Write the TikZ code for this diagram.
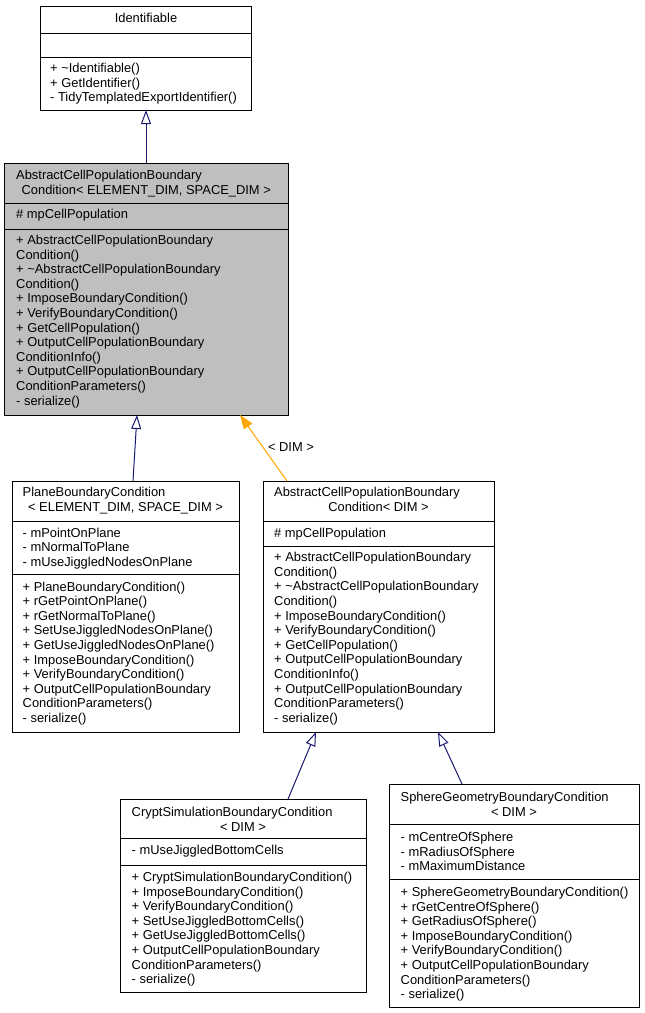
\documentclass[tikz,border=0pt]{standalone}
\usepackage{fontspec}
\setmainfont{Liberation Sans}
\usetikzlibrary{arrows.meta}
\definecolor{navy}{RGB}{25,25,112}
\definecolor{dorange}{RGB}{255,165,0}
\definecolor{dgray}{RGB}{191,191,191}
\newcommand\clslines[4]{%
  \foreach \t [count=\i] in {#4} {\node[txt] (#1-\i) at (#2,{#3+(\i-1)*14.6}) {\t};}%
}
\begin{document}
\begin{tikzpicture}[x=1pt,y=-1pt,
  box/.style={draw=black, line width=1pt, rectangle, inner sep=0pt, outer sep=0pt, anchor=north west},
  txt/.style={anchor=base west, inner sep=0pt, font=\fontsize{12.9}{14.6}\selectfont},
  ctxt/.style={anchor=base, inner sep=0pt, font=\fontsize{12.9}{14.6}\selectfont},
  sep/.style={draw=black, line width=1pt},
  inh/.style={draw=navy, line width=1pt, -{Triangle[open, length=14pt, width=10pt]}},
  tmpl/.style={draw=dorange, line width=1pt, -{Triangle[length=14pt, width=10pt]}, fill=dorange}
]
\useasboundingbox (0,0) rectangle (645,1013);

% Identifiable
\node[box, minimum width=211pt, minimum height=104pt] (ident) at (40.5,6) {};
\draw[sep] (ident.west |- 0,33) -- (ident.east |- 0,33);
\draw[sep] (ident.west |- 0,57) -- (ident.east |- 0,57);
\node[ctxt] (ident-t) at (146,22.5) {Identifiable};
\clslines{ident}{50}{72.5}{+ \textasciitilde Identifiable(), + GetIdentifier(), - TidyTemplatedExportIdentifier()}

% AbstractCellPopulationBoundaryCondition<ELEMENT_DIM, SPACE_DIM>
\node[box, fill=dgray, minimum width=283.5pt, minimum height=252pt] (abs) at (4.5,163) {};
\draw[sep] (abs.west |- 0,203) -- (abs.east |- 0,203);
\draw[sep] (abs.west |- 0,229) -- (abs.east |- 0,229);
\node[txt] (abs-t1) at (16,179.5) {AbstractCellPopulationBoundary};
\node[ctxt] (abs-t2) at (146.25,194.3) {Condition< ELEMENT\_DIM, SPACE\_DIM >};
\node[txt] (abs-a) at (16,218.5) {\# mpCellPopulation};
\clslines{abs}{16}{244.5}{+ AbstractCellPopulationBoundary, Condition(), + \textasciitilde AbstractCellPopulationBoundary, Condition(), + ImposeBoundaryCondition(), + VerifyBoundaryCondition(), + GetCellPopulation(), + OutputCellPopulationBoundary, ConditionInfo(), + OutputCellPopulationBoundary, ConditionParameters(), - serialize()}

% PlaneBoundaryCondition
\node[box, minimum width=227pt, minimum height=251pt] (plane) at (12,481) {};
\draw[sep] (plane.west |- 0,521) -- (plane.east |- 0,521);
\draw[sep] (plane.west |- 0,574) -- (plane.east |- 0,574);
\node[txt] (plane-t1) at (22.5,496.5) {PlaneBoundaryCondition};
\node[ctxt] (plane-t2) at (125.5,511.2) {< ELEMENT\_DIM, SPACE\_DIM >};
\clslines{plane-a}{22.5}{537}{- mPointOnPlane, - mNormalToPlane, - mUseJiggledNodesOnPlane}
\clslines{plane}{22.5}{591}{+ PlaneBoundaryCondition(), + rGetPointOnPlane(), + rGetNormalToPlane(), + SetUseJiggledNodesOnPlane(), + GetUseJiggledNodesOnPlane(), + ImposeBoundaryCondition(), + VerifyBoundaryCondition(), + OutputCellPopulationBoundary, ConditionParameters(), - serialize()}

% AbstractCellPopulationBoundaryCondition<DIM>
\node[box, minimum width=231pt, minimum height=251pt] (absdim) at (263,481) {};
\draw[sep] (absdim.west |- 0,521) -- (absdim.east |- 0,521);
\draw[sep] (absdim.west |- 0,546) -- (absdim.east |- 0,546);
\node[txt] (absdim-t1) at (274,496.7) {AbstractCellPopulationBoundary};
\node[ctxt] (absdim-t2) at (378.5,511.3) {Condition< DIM >};
\node[txt] (absdim-a) at (274,537.4) {\# mpCellPopulation};
\clslines{absdim}{274}{561.7}{+ AbstractCellPopulationBoundary, Condition(), + \textasciitilde AbstractCellPopulationBoundary, Condition(), + ImposeBoundaryCondition(), + VerifyBoundaryCondition(), + GetCellPopulation(), + OutputCellPopulationBoundary, ConditionInfo(), + OutputCellPopulationBoundary, ConditionParameters(), - serialize()}

% CryptSimulationBoundaryCondition
\node[box, minimum width=246pt, minimum height=193pt] (crypt) at (120,799) {};
\draw[sep] (crypt.west |- 0,838) -- (crypt.east |- 0,838);
\draw[sep] (crypt.west |- 0,865) -- (crypt.east |- 0,865);
\node[txt] (crypt-t1) at (131.5,816.5) {CryptSimulationBoundaryCondition};
\node[ctxt] (crypt-t2) at (243,831.2) {< DIM >};
\node[txt] (crypt-a) at (131.5,854.4) {- mUseJiggledBottomCells};
\clslines{crypt}{131.5}{881.5}{+ CryptSimulationBoundaryCondition(), + ImposeBoundaryCondition(), + VerifyBoundaryCondition(), + SetUseJiggledBottomCells(), + GetUseJiggledBottomCells(), + OutputCellPopulationBoundary, ConditionParameters(), - serialize()}

% SphereGeometryBoundaryCondition
\node[box, minimum width=250pt, minimum height=223pt] (sphere) at (389,784) {};
\draw[sep] (sphere.west |- 0,824) -- (sphere.east |- 0,824);
\draw[sep] (sphere.west |- 0,879) -- (sphere.east |- 0,879);
\node[txt] (sphere-t1) at (400.5,801.4) {SphereGeometryBoundaryCondition};
\node[ctxt] (sphere-t2) at (514,816.1) {< DIM >};
\clslines{sphere-a}{400.5}{841.4}{- mCentreOfSphere, - mRadiusOfSphere, - mMaximumDistance}
\clslines{sphere}{400.5}{896.5}{+ SphereGeometryBoundaryCondition(), + rGetCentreOfSphere(), + GetRadiusOfSphere(), + ImposeBoundaryCondition(), + VerifyBoundaryCondition(), + OutputCellPopulationBoundary, ConditionParameters(), - serialize()}

% connectors
\draw[inh] (abs.north -| ident.south) -- (ident.south);
\draw[inh] ([xshift=121pt]plane.north west) -- ([xshift=132.5pt]abs.south west);
\draw[tmpl] ([xshift=24pt]absdim.north west) -- ([xshift=235.5pt]abs.south west);
\node[ctxt] (dimlabel) at (291,451.4) {< DIM >};
\draw[inh] ([xshift=168pt]crypt.north west) -- ([xshift=53pt]absdim.south west);
\draw[inh] ([xshift=73pt]sphere.north west) -- ([xshift=175pt]absdim.south west);
\end{tikzpicture}
\end{document}
